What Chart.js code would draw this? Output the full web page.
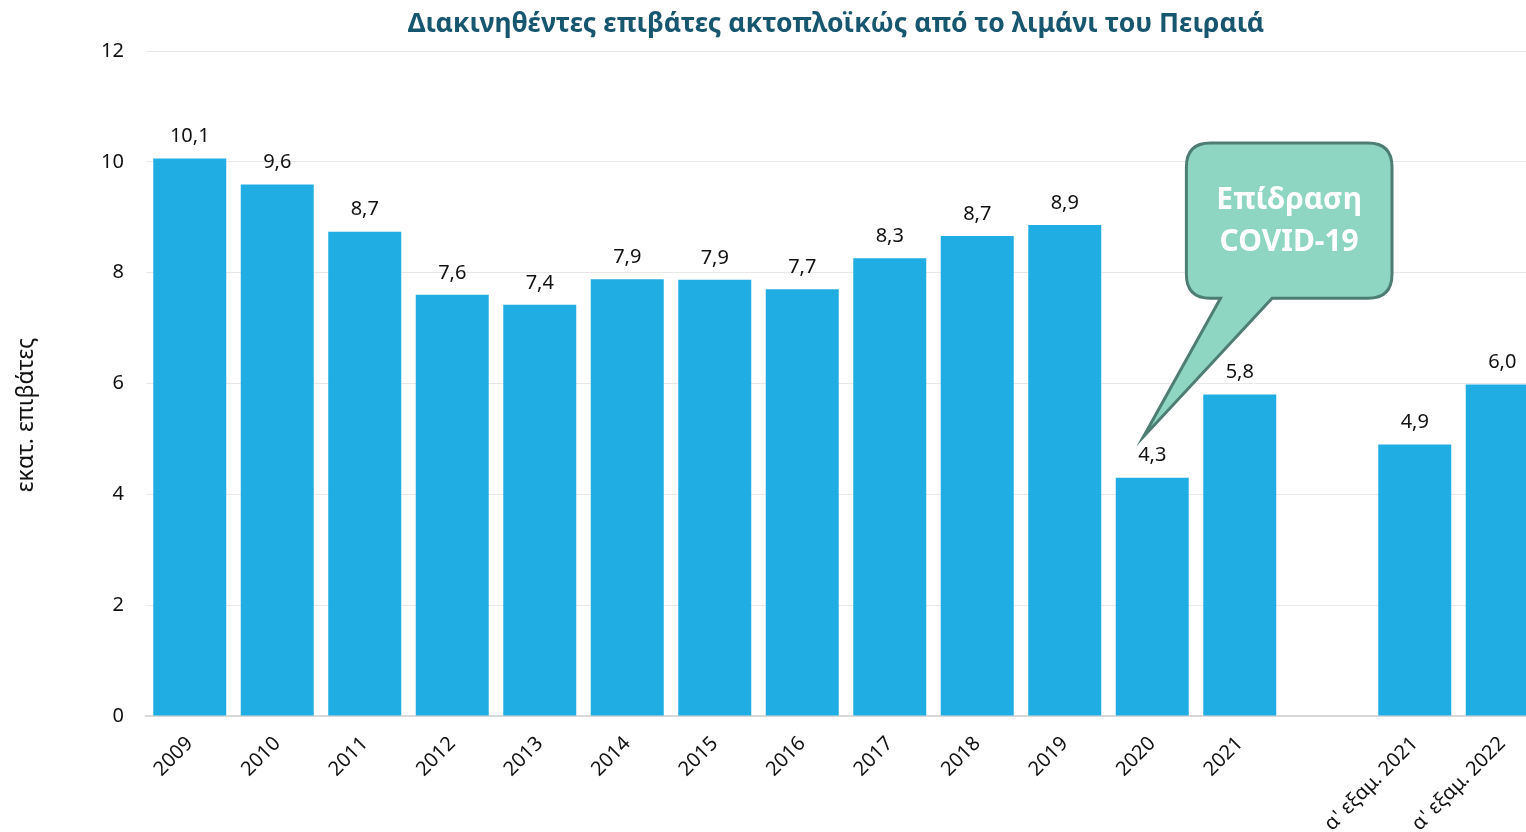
<!DOCTYPE html>
<html>
<head>
<meta charset="utf-8">
<script src="https://cdn.jsdelivr.net/npm/chart.js"></script>
<style>
  html, body { margin: 0; padding: 0; background: #fff; overflow: hidden; }
  #wrap { position: relative; width: 1546px; height: 832px; }
</style>
</head>
<body>
<div id="wrap"><canvas id="chartPiraeus"></canvas></div>

<script>
const categories = ['2009', '2010', '2011', '2012', '2013', '2014', '2015', '2016',
    '2017', '2018', '2019', '2020', '2021', '', "α' εξαμ. 2021", "α' εξαμ. 2022"];
const passengers = [10.06, 9.59, 8.74, 7.6, 7.42, 7.88, 7.87, 7.7,
    8.26, 8.66, 8.86, 4.3, 5.8, null, 4.9, 5.98];
const yTicks = [0, 2, 4, 6, 8, 10, 12];

const chartTitle = 'Διακινηθέντες επιβάτες ακτοπλοϊκώς από το λιμάνι του Πειραιά';
const yTitle = 'εκατ. επιβάτες';
const calloutText = ['Επίδραση', 'COVID-19'];

const FONT = '"Noto Sans", sans-serif';
const barColor = '#1fade3';

/* =========================
   CUSTOM DRAWING
========================= */
const extrasPlugin = {
    id: 'extras',
    afterDatasetsDraw(chart) {
        const ctx = chart.ctx;
        const x = chart.scales.x, y = chart.scales.y;
        const area = chart.chartArea;

        // value labels
        const meta = chart.getDatasetMeta(0);
        ctx.save();
        ctx.font = '20px ' + FONT;
        ctx.fillStyle = '#111';
        ctx.textAlign = 'center';
        ctx.textBaseline = 'bottom';
        meta.data.forEach((bar, i) => {
            const v = passengers[i];
            if (v === null) return;
            ctx.fillText(v.toFixed(1).replace('.', ','), bar.x, bar.y - 12);
        });
        ctx.restore();

        // title centred over plot area
        ctx.save();
        ctx.font = 'bold 26.5px ' + FONT;
        ctx.fillStyle = '#17566f';
        ctx.textAlign = 'center';
        ctx.textBaseline = 'middle';
        ctx.fillText(chartTitle, (area.left + 1526) / 2, 24);
        ctx.restore();

        // y axis title
        ctx.save();
        ctx.translate(26, 415);
        ctx.rotate(-Math.PI / 2);
        ctx.font = '23px ' + FONT;
        ctx.fillStyle = '#111';
        ctx.textAlign = 'center';
        ctx.textBaseline = 'middle';
        ctx.fillText(yTitle, 0, 0);
        ctx.restore();

        // COVID callout, anchored on the scales
        const L = x.getPixelForValue(11.39), R = x.getPixelForValue(13.74);
        const T = y.getPixelForValue(10.34), B = y.getPixelForValue(7.54);
        const p1 = x.getPixelForValue(11.78), p2 = x.getPixelForValue(12.37);
        const tx = x.getPixelForValue(10.9), ty = y.getPixelForValue(5.04);
        const r = 24;
        ctx.save();
        ctx.beginPath();
        ctx.moveTo(L + r, T);
        ctx.lineTo(R - r, T);
        ctx.quadraticCurveTo(R, T, R, T + r);
        ctx.lineTo(R, B - r);
        ctx.quadraticCurveTo(R, B, R - r, B);
        ctx.lineTo(p2, B);
        ctx.lineTo(tx, ty);
        ctx.lineTo(p1, B);
        ctx.lineTo(L + r, B);
        ctx.quadraticCurveTo(L, B, L, B - r);
        ctx.lineTo(L, T + r);
        ctx.quadraticCurveTo(L, T, L + r, T);
        ctx.closePath();
        ctx.fillStyle = '#8fd6c2';
        ctx.fill();
        ctx.lineWidth = 3;
        ctx.strokeStyle = '#4e7d74';
        ctx.stroke();

        ctx.font = 'bold 30px ' + FONT;
        ctx.fillStyle = '#fff';
        ctx.textAlign = 'center';
        ctx.textBaseline = 'middle';
        const cx = (L + R) / 2;
        ctx.fillText(calloutText[0], cx, y.getPixelForValue(9.31));
        ctx.fillText(calloutText[1], cx, y.getPixelForValue(8.54));
        ctx.restore();
    }
};

window.onload = function () {
    const ctx = document.getElementById('chartPiraeus').getContext('2d');
    new Chart(ctx, {
        type: 'bar',
        data: {
            labels: categories,
            datasets: [{
                data: passengers,
                backgroundColor: barColor,
                categoryPercentage: 1,
                barPercentage: 0.834
            }]
        },
        options: {
            responsive: true,
            maintainAspectRatio: false,
            animation: false,
            layout: { padding: { top: 51, left: 0, right: 0, bottom: 0 } },
            plugins: {
                legend: { display: false },
                tooltip: { enabled: false },
                title: { display: false }
            },
            scales: {
                x: {
                    afterFit(scale) { scale.height = 116; },
                    grid: { display: false },
                    border: { color: '#d9d9d9', width: 2 },
                    ticks: {
                        color: '#111',
                        font: { family: FONT, size: 20 },
                        minRotation: 45,
                        maxRotation: 45,
                        autoSkip: false,
                        padding: 8
                    }
                },
                y: {
                    min: 0,
                    max: 12,
                    afterFit(scale) { scale.width = 146; },
                    afterBuildTicks(scale) { scale.ticks = yTicks.map(v => ({ value: v })); },
                    grid: { color: '#e8e8e8', lineWidth: 1, drawTicks: false },
                    border: { display: false },
                    ticks: {
                        color: '#111',
                        font: { family: FONT, size: 20 },
                        padding: 22
                    }
                }
            }
        },
        plugins: [extrasPlugin]
    });
};
</script>
</body>
</html>
